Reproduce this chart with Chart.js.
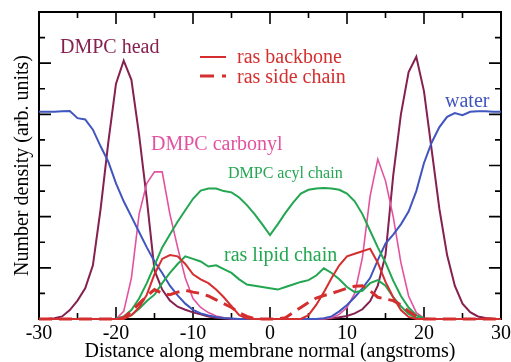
<!DOCTYPE html>
<html>
<head>
<meta charset="utf-8">
<script src="https://cdn.jsdelivr.net/npm/chart.js@4.4.1/dist/chart.umd.min.js"></script>
<style>
  html, body { margin: 0; padding: 0; background: #fff; }
  canvas { display: block; }
</style>
</head>
<body>
<canvas id="densityChart" width="511" height="362"></canvas>
<script>
// distance along membrane normal (angstroms), one point per angstrom
const distance = [
  -30, -29, -28, -27, -26, -25, -24, -23, -22, -21,
  -20, -19, -18, -17, -16, -15, -14, -13, -12, -11,
  -10, -9, -8, -7, -6, -5, -4, -3, -2, -1,
  0, 1, 2, 3, 4, 5, 6, 7, 8, 9,
  10, 11, 12, 13, 14, 15, 16, 17, 18, 19,
  20, 21, 22, 23, 24, 25, 26, 27, 28, 29, 30
];

// number densities (arb. units)
const dmpcHead = [
  0, 0, 0.03, 0.1, 0.35, 0.72, 1.2, 2.1, 4.3, 6.9,
  9.2, 10.1, 9.35, 7.2, 4.7, 1.9, 1.15, 0.72, 0.48, 0.36,
  0.26, 0.18, 0.1, 0.05, 0.02, 0, 0, 0, 0, 0,
  0, 0, 0, 0, 0, 0, 0, 0, 0.03, 0.07,
  0.12, 0.22, 0.38, 0.7, 1.3, 2.5, 5.6, 8.0, 9.65, 10.25,
  8.9, 6.6, 4.3, 2.5, 1.3, 0.6, 0.27, 0.1, 0.04, 0.01, 0
];
const dmpcCarbonyl = [
  0, 0, 0, 0, 0, 0, 0, 0, 0, 0,
  0, 0.3, 1.6, 4.1, 5.3, 5.75, 5.75, 4.1, 2.8, 1.6,
  0.8, 0.45, 0.25, 0.12, 0.05, 0.02, 0, 0, 0, 0,
  0, 0, 0, 0, 0, 0, 0, 0, 0.05, 0.18,
  0.45, 1.0, 2.4, 4.8, 6.25, 5.4, 4.0, 2.2, 0.9, 0.25,
  0.03, 0, 0, 0, 0, 0, 0, 0, 0, 0, 0
];
const water = [
  8.1, 8.1, 8.1, 8.12, 8.13, 7.85, 7.8, 7.4, 6.75, 6.15,
  5.3, 4.6, 4.0, 3.4, 2.8, 2.25, 1.8, 1.3, 0.92, 0.6,
  0.36, 0.22, 0.14, 0.08, 0.04, 0.02, 0, 0, 0, 0,
  0, 0, 0, 0, 0, 0, 0, 0.03, 0.1, 0.3,
  0.55, 0.85, 1.2, 1.6, 2.3, 2.95, 3.3, 3.7, 4.2, 5.0,
  6.1, 6.9, 7.5, 7.9, 8.05, 7.97, 8.1, 8.12, 8.12, 8.1, 8.1
];
const dmpcAcyl = [
  0, 0, 0, 0, 0, 0, 0, 0, 0, 0,
  0, 0.1, 0.35, 0.8, 1.4, 2.1, 2.8, 3.3, 3.8, 4.25,
  4.7, 5.02, 5.1, 5.1, 5.0, 4.95, 4.75, 4.45, 4.1, 3.7,
  3.28, 3.7, 4.15, 4.55, 4.9, 5.05, 5.1, 5.12, 5.1, 5.05,
  4.9, 4.6, 4.1, 3.45, 2.8, 2.2, 1.5, 0.9, 0.45, 0.15,
  0.02, 0, 0, 0, 0, 0, 0, 0, 0, 0, 0
];
const rasLipid = [
  0, 0, 0, 0, 0, 0, 0, 0, 0, 0,
  0, 0.05, 0.15, 0.4, 0.7, 0.95, 1.4, 1.8, 2.15, 2.45,
  2.35, 2.25, 2.05, 2.1, 1.95, 1.8, 1.55, 1.35, 1.3, 1.25,
  1.2, 1.15, 1.25, 1.35, 1.45, 1.52, 1.7, 1.98, 1.8, 1.55,
  1.25, 1.05, 1.1, 1.4, 1.52, 1.3, 0.85, 0.5, 0.2, 0.05,
  0, 0, 0, 0, 0, 0, 0, 0, 0, 0, 0
];
const rasBackbone = [
  0, 0, 0, 0, 0, 0, 0, 0, 0, 0,
  0, 0, 0.15, 0.45, 0.95, 1.75, 2.35, 2.5, 2.45, 2.15,
  1.75, 1.55, 1.4, 1.15, 0.85, 0.5, 0.15, 0.02, 0, 0,
  0, 0, 0, 0, 0, 0.15, 0.55, 1.05, 1.6, 2.1,
  2.45, 2.55, 2.65, 2.75, 2.2, 1.45, 0.85, 0.35, 0.08, 0,
  0, 0, 0, 0, 0, 0, 0, 0, 0, 0, 0
];
const rasSideChain = [
  0, 0, 0, 0, 0, 0, 0, 0, 0, 0,
  0, 0.05, 0.3, 0.6, 0.9, 1.15, 1.0, 0.95, 1.05, 1.12,
  1.05, 1.0, 0.9, 0.75, 0.6, 0.45, 0.25, 0.1, 0.02, 0,
  0, 0, 0.05, 0.25, 0.45, 0.65, 0.82, 0.92, 1.0, 1.1,
  1.2, 1.28, 1.3, 1.1, 0.85, 0.78, 0.72, 0.55, 0.3, 0.1,
  0, 0, 0, 0, 0, 0, 0, 0, 0, 0, 0
];

const xTickLabels = [-30, -20, -10, 0, 10, 20, 30];

const serif = '"Liberation Serif", "Times New Roman", serif';
const colors = {
  head: '#862050',
  carbonyl: '#E3529F',
  water: '#4055BE',
  green: '#22A650',
  red: '#D42E2E'
};

function pts(ys) {
  return distance.map((x, i) => ({ x: x, y: ys[i] }));
}

function line(label, ys, color, width, dash) {
  return {
    label: label,
    data: pts(ys),
    borderColor: color,
    borderWidth: width,
    borderDash: dash || [],
    pointRadius: 0,
    tension: 0,
    fill: false,
    clip: false
  };
}

// box, inward ticks, curve labels and the little legend
const decorations = {
  id: 'decorations',
  beforeDatasetsDraw(chart) {
    const { ctx, chartArea: a, scales: { x, y } } = chart;
    ctx.save();
    ctx.strokeStyle = '#000';
    ctx.lineWidth = 2;
    ctx.strokeRect(a.left, a.top, a.right - a.left, a.bottom - a.top);
    ctx.lineWidth = 1.6;
    ctx.beginPath();
    x.ticks.forEach(t => {
      const px = x.getPixelForValue(t.value);
      const len = t.value % 10 === 0 ? 12 : 6;
      ctx.moveTo(px, a.bottom); ctx.lineTo(px, a.bottom - len);
      ctx.moveTo(px, a.top); ctx.lineTo(px, a.top + len);
    });
    y.ticks.forEach(t => {
      const py = y.getPixelForValue(t.value);
      const len = t.value % 2 === 0 ? 12 : 6;
      ctx.moveTo(a.left, py); ctx.lineTo(a.left + len, py);
      ctx.moveTo(a.right, py); ctx.lineTo(a.right - len, py);
    });
    ctx.stroke();
    ctx.restore();
  },
  afterDraw(chart) {
    const ctx = chart.ctx;
    ctx.save();
    ctx.textBaseline = 'alphabetic';
    ctx.textAlign = 'left';
    const text = (s, x, y, color, size) => {
      ctx.font = size + 'px ' + serif;
      ctx.fillStyle = color;
      ctx.fillText(s, x, y);
    };
    text('DMPC head', 60, 53, colors.head, 20);
    text('DMPC carbonyl', 151, 150, colors.carbonyl, 20);
    text('DMPC acyl chain', 228, 178, colors.green, 16);
    text('ras lipid chain', 224, 261, colors.green, 20);
    text('water', 445, 107, colors.water, 20);

    // legend
    ctx.strokeStyle = colors.red;
    ctx.lineWidth = 2;
    ctx.beginPath();
    ctx.moveTo(200, 57); ctx.lineTo(226, 57);
    ctx.stroke();
    ctx.lineWidth = 3;
    ctx.setLineDash([14, 8]);
    ctx.beginPath();
    ctx.moveTo(200, 76); ctx.lineTo(226, 76);
    ctx.stroke();
    ctx.setLineDash([]);
    text('ras backbone', 237, 63, colors.red, 20);
    text('ras side chain', 237, 83, colors.red, 20);
    ctx.restore();
  }
};

new Chart(document.getElementById('densityChart'), {
  type: 'line',
  data: {
    datasets: [
      line('ras backbone', rasBackbone, colors.red, 2),
      line('ras side chain', rasSideChain, colors.red, 3, [13, 7]),
      line('ras lipid chain', rasLipid, colors.green, 2),
      line('DMPC acyl chain', dmpcAcyl, colors.green, 2),
      line('water', water, colors.water, 2),
      line('DMPC carbonyl', dmpcCarbonyl, colors.carbonyl, 1.6),
      line('DMPC head', dmpcHead, colors.head, 2)
    ]
  },
  options: {
    responsive: false,
    animation: false,
    layout: { padding: { left: 0, top: 12, right: 10, bottom: 0 } },
    plugins: {
      legend: { display: false },
      tooltip: { enabled: false }
    },
    scales: {
      x: {
        type: 'linear',
        min: -30,
        max: 30,
        grid: { display: false, drawTicks: false },
        border: { display: false },
        ticks: {
          stepSize: 5,
          autoSkip: false,
          maxRotation: 0,
          padding: 3,
          color: '#000',
          font: { family: serif, size: 20 },
          callback: v => xTickLabels.includes(v) ? String(v) : ''
        },
        title: {
          display: true,
          text: 'Distance along membrane normal (angstroms)',
          color: '#000',
          font: { family: serif, size: 20, lineHeight: 1.2 },
          padding: { top: 0, bottom: -2 }
        },
        afterFit(scale) {
          scale.height = 43;
          scale.paddingLeft = 0;
          scale.paddingRight = 0;
        }
      },
      y: {
        min: 0,
        max: 12,
        grid: { display: false, drawTicks: false },
        border: { display: false },
        ticks: { stepSize: 1, display: false },
        title: {
          display: true,
          text: 'Number density (arb. units)',
          color: '#000',
          font: { family: serif, size: 20, lineHeight: 1.2 },
          padding: { top: 11, bottom: 0 }
        },
        afterFit(scale) {
          scale.width = 39;
          scale.paddingTop = 0;
          scale.paddingBottom = 0;
        }
      }
    }
  },
  plugins: [decorations]
});
</script>
</body>
</html>
